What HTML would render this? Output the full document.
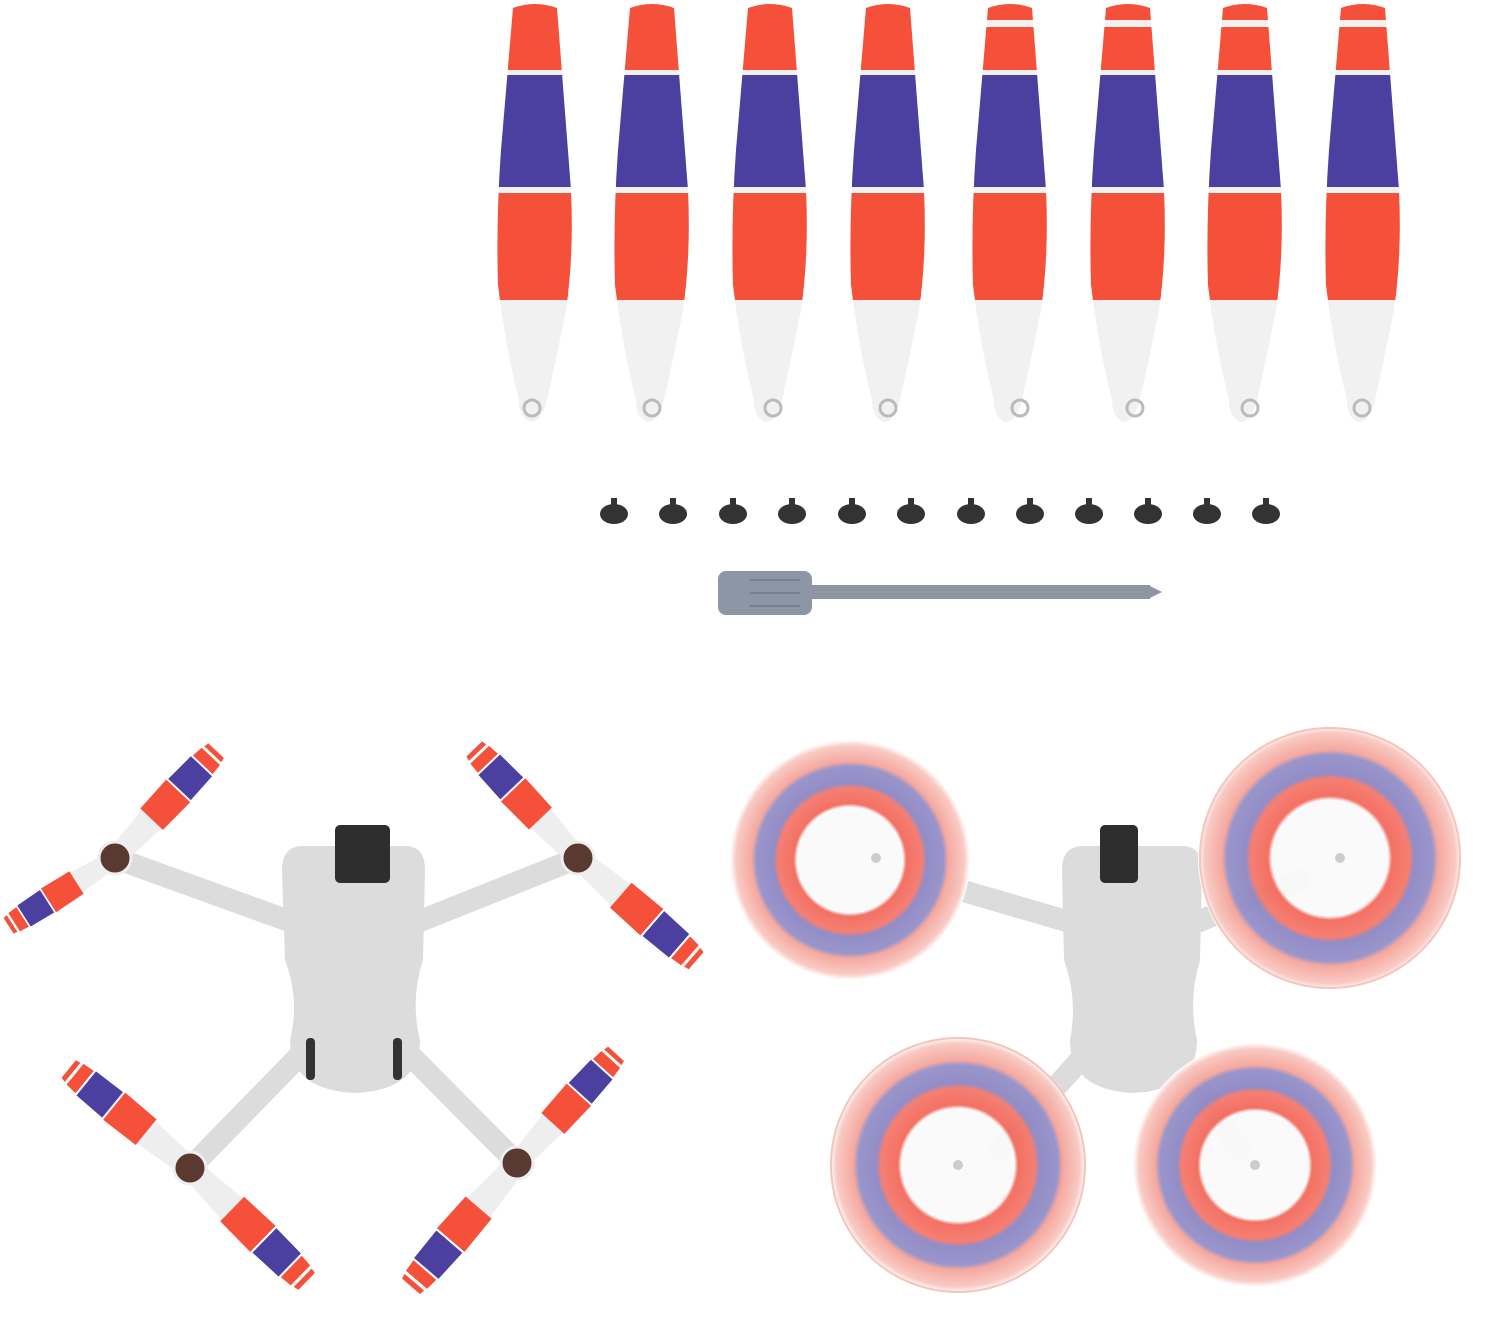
<!DOCTYPE html>
<html><head><meta charset="utf-8"><style>html,body{margin:0;padding:0;background:#fff}svg{display:block}</style></head>
<body>
<svg width="1500" height="1327" viewBox="0 0 1500 1327" xmlns="http://www.w3.org/2000/svg">
<defs>
<clipPath id="bc"><path d="M-22,8 Q0,0 22,8 L36,190 Q39,255 31,310 Q20,365 12,400 Q6,422 -4,422 Q-16,418 -16,400 Q-30,345 -37,285 Q-39,220 -34,150 Z"/></clipPath>
<g id="bladeA" clip-path="url(#bc)">
<rect x="-50" y="0" width="100" height="430" fill="#f1f1f1"/>
<rect x="-50" y="0" width="100" height="70" fill="#f4503a"/>
<rect x="-50" y="75" width="100" height="112" fill="#4b40a0"/>
<rect x="-50" y="193" width="100" height="107" fill="#f4503a"/>
</g>
<g id="bladeB" clip-path="url(#bc)">
<rect x="-50" y="0" width="100" height="430" fill="#f1f1f1"/>
<rect x="-50" y="0" width="100" height="20" fill="#f4503a"/>
<rect x="-50" y="27" width="100" height="43" fill="#f4503a"/>
<rect x="-50" y="75" width="100" height="112" fill="#4b40a0"/>
<rect x="-50" y="193" width="100" height="107" fill="#f4503a"/>
</g>
<g id="mb">
<path d="M0,-10 L55,-14 L55,14 L0,10 Z" fill="#eeeeee"/>
<path d="M55,-16 L95,-17 L95,17 L55,16 Z" fill="#f4503a"/>
<path d="M97,-16 L130,-15 L130,15 L97,16 Z" fill="#4b40a0"/>
<path d="M132,-14 L144,-13 L144,13 L132,14 Z" fill="#f4503a"/>
<path d="M147,-12 L152,-11 L152,11 L147,12 Z" fill="#f4503a"/>
</g>
<radialGradient id="disc">
<stop offset="0" stop-color="#fafafa"/><stop offset="0.44" stop-color="#fafafa"/>
<stop offset="0.47" stop-color="#f26a5c"/><stop offset="0.6" stop-color="#f5786b"/>
<stop offset="0.64" stop-color="#8d87c4"/><stop offset="0.78" stop-color="#9490c8"/>
<stop offset="0.82" stop-color="#f5a49a"/><stop offset="0.95" stop-color="#f8c7c0"/>
<stop offset="1" stop-color="#fff"/>
</radialGradient>
</defs>

<use href="#bladeA" transform="translate(535,0)"/>
<use href="#bladeA" transform="translate(652,0)"/>
<use href="#bladeA" transform="translate(770,0)"/>
<use href="#bladeA" transform="translate(888,0)"/>
<use href="#bladeB" transform="translate(1010,0)"/>
<use href="#bladeB" transform="translate(1128,0)"/>
<use href="#bladeB" transform="translate(1245,0)"/>
<use href="#bladeB" transform="translate(1363,0)"/>
<g fill="none" stroke="#bbb" stroke-width="3">
<circle cx="532" cy="408" r="8"/><circle cx="652" cy="408" r="8"/><circle cx="773" cy="408" r="8"/><circle cx="888" cy="408" r="8"/>
<circle cx="1020" cy="408" r="8"/><circle cx="1135" cy="408" r="8"/><circle cx="1250" cy="408" r="8"/><circle cx="1362" cy="408" r="8"/>
</g>

<g fill="#333">
<g transform="translate(614,512)"><ellipse cx="0" cy="2" rx="14" ry="10"/><rect x="-3" y="-14" width="6" height="10"/></g>
<g transform="translate(673,512)"><ellipse cx="0" cy="2" rx="14" ry="10"/><rect x="-3" y="-14" width="6" height="10"/></g>
<g transform="translate(733,512)"><ellipse cx="0" cy="2" rx="14" ry="10"/><rect x="-3" y="-14" width="6" height="10"/></g>
<g transform="translate(792,512)"><ellipse cx="0" cy="2" rx="14" ry="10"/><rect x="-3" y="-14" width="6" height="10"/></g>
<g transform="translate(852,512)"><ellipse cx="0" cy="2" rx="14" ry="10"/><rect x="-3" y="-14" width="6" height="10"/></g>
<g transform="translate(911,512)"><ellipse cx="0" cy="2" rx="14" ry="10"/><rect x="-3" y="-14" width="6" height="10"/></g>
<g transform="translate(971,512)"><ellipse cx="0" cy="2" rx="14" ry="10"/><rect x="-3" y="-14" width="6" height="10"/></g>
<g transform="translate(1030,512)"><ellipse cx="0" cy="2" rx="14" ry="10"/><rect x="-3" y="-14" width="6" height="10"/></g>
<g transform="translate(1089,512)"><ellipse cx="0" cy="2" rx="14" ry="10"/><rect x="-3" y="-14" width="6" height="10"/></g>
<g transform="translate(1148,512)"><ellipse cx="0" cy="2" rx="14" ry="10"/><rect x="-3" y="-14" width="6" height="10"/></g>
<g transform="translate(1207,512)"><ellipse cx="0" cy="2" rx="14" ry="10"/><rect x="-3" y="-14" width="6" height="10"/></g>
<g transform="translate(1266,512)"><ellipse cx="0" cy="2" rx="14" ry="10"/><rect x="-3" y="-14" width="6" height="10"/></g>
</g>

<rect x="718" y="571" width="94" height="44" rx="8" fill="#8d96a5"/>
<rect x="810" y="585" width="340" height="14" fill="#8d96a5"/>
<path d="M1148,585 L1162,592 L1148,599 Z" fill="#8d96a5"/>
<g stroke="#76808f" stroke-width="2"><line x1="750" y1="580" x2="800" y2="580"/><line x1="750" y1="593" x2="800" y2="593"/><line x1="750" y1="606" x2="800" y2="606"/></g>

<g stroke="#dcdcdc" stroke-width="22" stroke-linecap="round">
<line x1="115" y1="858" x2="300" y2="925"/><line x1="578" y1="858" x2="410" y2="925"/>
<line x1="190" y1="1168" x2="305" y2="1050"/><line x1="517" y1="1163" x2="405" y2="1050"/>
</g>
<path d="M282,870 Q282,848 300,846 L408,846 Q425,848 425,870 L423,960 Q410,1000 420,1040 Q420,1090 355,1093 Q290,1090 290,1040 Q300,1000 285,960 Z" fill="#dcdcdc"/>
<rect x="335" y="825" width="55" height="58" rx="5" fill="#2e2e2e"/>
<rect x="306" y="1038" width="9" height="42" rx="4" fill="#333"/><rect x="393" y="1038" width="9" height="42" rx="4" fill="#333"/>
<use href="#mb" transform="translate(115,858) rotate(-46.7) scale(0.97)"/>
<use href="#mb" transform="translate(115,858) rotate(147.5) scale(0.83)"/>
<use href="#mb" transform="translate(578,858) rotate(-133.6) scale(0.99)"/>
<use href="#mb" transform="translate(578,858) rotate(41) scale(1.03)"/>
<use href="#mb" transform="translate(190,1168) rotate(-140.8) scale(1.03)"/>
<use href="#mb" transform="translate(190,1168) rotate(44.2) scale(1.07)"/>
<use href="#mb" transform="translate(517,1163) rotate(-47.8) scale(0.97)"/>
<use href="#mb" transform="translate(517,1163) rotate(130.7) scale(1.07)"/>
<g fill="#5a3a30" stroke="#eee" stroke-width="3">
<circle cx="115" cy="858" r="16"/><circle cx="578" cy="858" r="16"/><circle cx="190" cy="1168" r="16"/><circle cx="517" cy="1163" r="16"/>
</g>

<g stroke="#dcdcdc" stroke-width="22" stroke-linecap="round">
<line x1="960" y1="890" x2="1080" y2="925"/><line x1="1300" y1="880" x2="1190" y2="925"/>
<line x1="1000" y1="1150" x2="1080" y2="1060"/><line x1="1240" y1="1150" x2="1180" y2="1060"/>
</g>
<path d="M1062,870 Q1062,848 1080,846 L1185,846 Q1202,848 1202,870 L1200,960 Q1188,1000 1197,1040 Q1197,1090 1133,1093 Q1070,1090 1070,1040 Q1078,1000 1064,960 Z" fill="#dcdcdc"/>
<rect x="1100" y="825" width="38" height="58" rx="5" fill="#2e2e2e"/>
<g opacity="0.95">
<circle cx="850" cy="860" r="120" fill="url(#disc)"/>
<circle cx="1330" cy="858" r="132" fill="url(#disc)"/>
<circle cx="958" cy="1165" r="128" fill="url(#disc)"/>
<circle cx="1255" cy="1165" r="122" fill="url(#disc)"/>
</g>
<g fill="none" stroke="#f2c5bd" stroke-width="2">
<circle cx="1330" cy="858" r="130"/><circle cx="958" cy="1165" r="127"/>
</g>
<g fill="#ccc"><circle cx="876" cy="858" r="5"/><circle cx="1340" cy="858" r="5"/><circle cx="958" cy="1165" r="5"/><circle cx="1255" cy="1165" r="5"/></g>
</svg>
</body></html>
